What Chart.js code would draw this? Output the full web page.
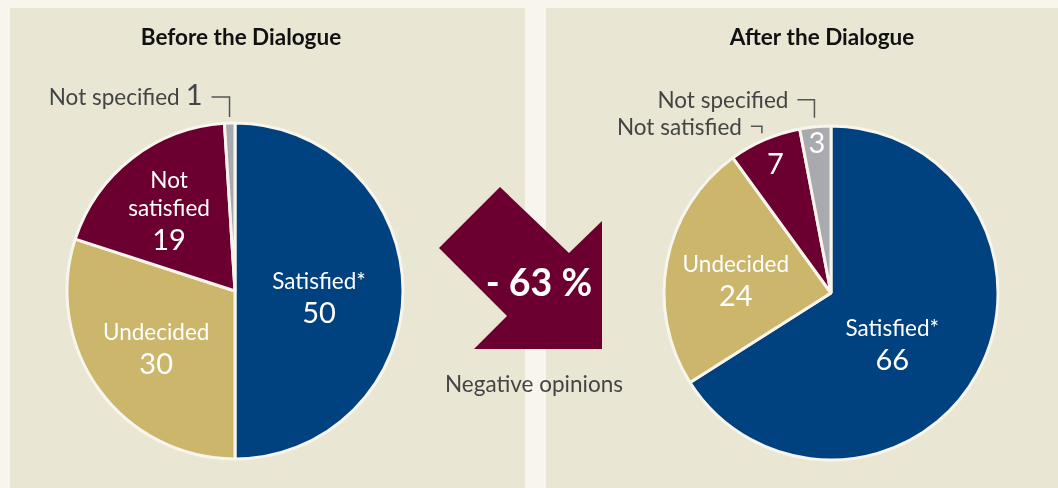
<!DOCTYPE html>
<html>
<head>
<meta charset="utf-8">
<script src="https://cdn.jsdelivr.net/npm/chart.js@4.4.1/dist/chart.umd.min.js"></script>
<style>
  html, body { margin: 0; padding: 0; }
  body { width: 1058px; height: 488px; background: #f8f5ed; position: relative; overflow: hidden; font-family: Lato, sans-serif; }
  .panel { position: absolute; top: 8px; height: 480px; background: #e9e6d4; }
  #left { left: 10px; width: 515px; }
  #right { left: 546px; width: 512px; }
  .panel canvas { position: absolute; left: 0; top: 0; }
  #arrow { position: absolute; left: 0; top: 0; }
</style>
</head>
<body>
<div class="panel" id="left"><canvas id="beforeChart" width="515" height="480"></canvas></div>
<div class="panel" id="right"><canvas id="afterChart" width="512" height="480"></canvas></div>
<svg id="arrow" width="1058" height="488">
  <polygon points="500,187 439,248 507,316 474,349 602,349 602,221 569,253" fill="#6b0030"/>
  <text x="539" y="296" text-anchor="middle" fill="#ffffff" font-family="Lato" font-weight="bold" font-size="37.5">- 63 %</text>
  <text x="534" y="392" text-anchor="middle" fill="#444444" font-family="Lato" font-size="22.5">Negative opinions</text>
</svg>
<script>
// categories and values for both pies
const categories = ['Satisfied*', 'Undecided', 'Not satisfied', 'Not specified'];
const beforeValues = [50, 30, 19, 1];
const afterValues = [66, 24, 7, 3];
const sliceColors = ['#00427f', '#cbb66b', '#6b0030', '#a8aaae'];

// draws the titles, the labels inside the slices and the ones with leader lines
const sliceLabels = {
    id: 'sliceLabels',
    afterDatasetsDraw(chart, args, opts) {
        const ctx = chart.ctx;
        const arcs = chart.getDatasetMeta(0).data;
        const values = chart.data.datasets[0].data;
        const names = chart.data.labels;
        ctx.save();

        // title
        ctx.fillStyle = '#111111';
        ctx.font = 'bold 22.5px Lato';
        ctx.textAlign = 'center';
        ctx.textBaseline = 'middle';
        ctx.fillText(opts.title, opts.titleX, 30);

        opts.items.forEach((item, i) => {
            const arc = arcs[i];
            const p = arc.getProps(['x', 'y', 'startAngle', 'endAngle', 'outerRadius'], true);
            const mid = (p.startAngle + p.endAngle) / 2;
            const dx = Math.cos(mid), dy = Math.sin(mid);

            if (item.inside) {
                const nudge = item.nudge || [0, 0];
                const cx = p.x + dx * p.outerRadius * item.inside + nudge[0];
                const cy = p.y + dy * p.outerRadius * item.inside + nudge[1];
                const lines = [];
                (item.nameLines || []).forEach(t => lines.push({ t: t, size: 22.5, gap: 28 }));
                lines.push({ t: String(values[i]), size: 29, gap: 32 });
                let h = 0;
                lines.forEach((l, k) => { if (k > 0) h += l.gap; });
                let y = cy - h / 2;
                ctx.fillStyle = '#ffffff';
                ctx.textAlign = 'center';
                ctx.textBaseline = 'middle';
                lines.forEach((l, k) => {
                    if (k > 0) y += l.gap;
                    ctx.font = l.size + 'px Lato';
                    ctx.fillText(l.t, cx, y);
                });
            }

            if (item.leader) {
                const L = item.leader;
                const ax = p.x + dx * (p.outerRadius + L.gap);
                const ay = p.y + dy * (p.outerRadius + L.gap);
                const ex = ax, ey = ay - L.rise;
                ctx.strokeStyle = '#555555';
                ctx.lineWidth = 1.5;
                ctx.beginPath();
                ctx.moveTo(ax, ay);
                ctx.lineTo(ex, ey);
                ctx.lineTo(ex - L.run, ey);
                ctx.stroke();

                ctx.fillStyle = '#444444';
                ctx.textAlign = 'right';
                ctx.textBaseline = 'middle';
                let tx = ex - L.run - 9;
                if (L.withValue) {
                    ctx.font = '29px Lato';
                    const v = String(values[i]);
                    ctx.fillText(v, tx, ey - 1);
                    tx -= ctx.measureText(v).width + 6;
                }
                ctx.font = '22.5px Lato';
                ctx.fillText(names[i], tx, ey + 1);
            }
        });
        ctx.restore();
    }
};

function makePie(id, values, radius, padding, labelOpts) {
    return new Chart(document.getElementById(id), {
        type: 'pie',
        data: {
            labels: categories,
            datasets: [{
                data: values,
                backgroundColor: sliceColors,
                borderColor: '#f8f5ed',
                borderWidth: 3,
                radius: radius
            }]
        },
        options: {
            responsive: false,
            animation: false,
            layout: { padding: padding },
            plugins: {
                legend: { display: false },
                tooltip: { enabled: false },
                sliceLabels: labelOpts
            }
        },
        plugins: [sliceLabels]
    });
}

makePie('beforeChart', beforeValues, 168, { left: 0, right: 65, top: 86, bottom: 0 }, {
    title: 'Before the Dialogue',
    titleX: 231,
    items: [
        { inside: 0.5, nameLines: ['Satisfied*'], nudge: [0, 7] },
        { inside: 0.58, nameLines: ['Undecided'] },
        { inside: 0.64, nameLines: ['Not', 'satisfied'], nudge: [0, 5] },
        { leader: { gap: 6, rise: 20, run: 18, withValue: true } }
    ]
});

makePie('afterChart', afterValues, 167, { left: 58, right: 0, top: 90, bottom: 0 }, {
    title: 'After the Dialogue',
    titleX: 276,
    items: [
        { inside: 0.48, nameLines: ['Satisfied*'], nudge: [-9, 13] },
        { inside: 0.58, nameLines: ['Undecided'], nudge: [0, 6] },
        { inside: 0.84, leader: { gap: 7, rise: 7, run: 11 } },
        { inside: 0.9, leader: { gap: 9, rise: 18, run: 17 } }
    ]
});
</script>
</body>
</html>
